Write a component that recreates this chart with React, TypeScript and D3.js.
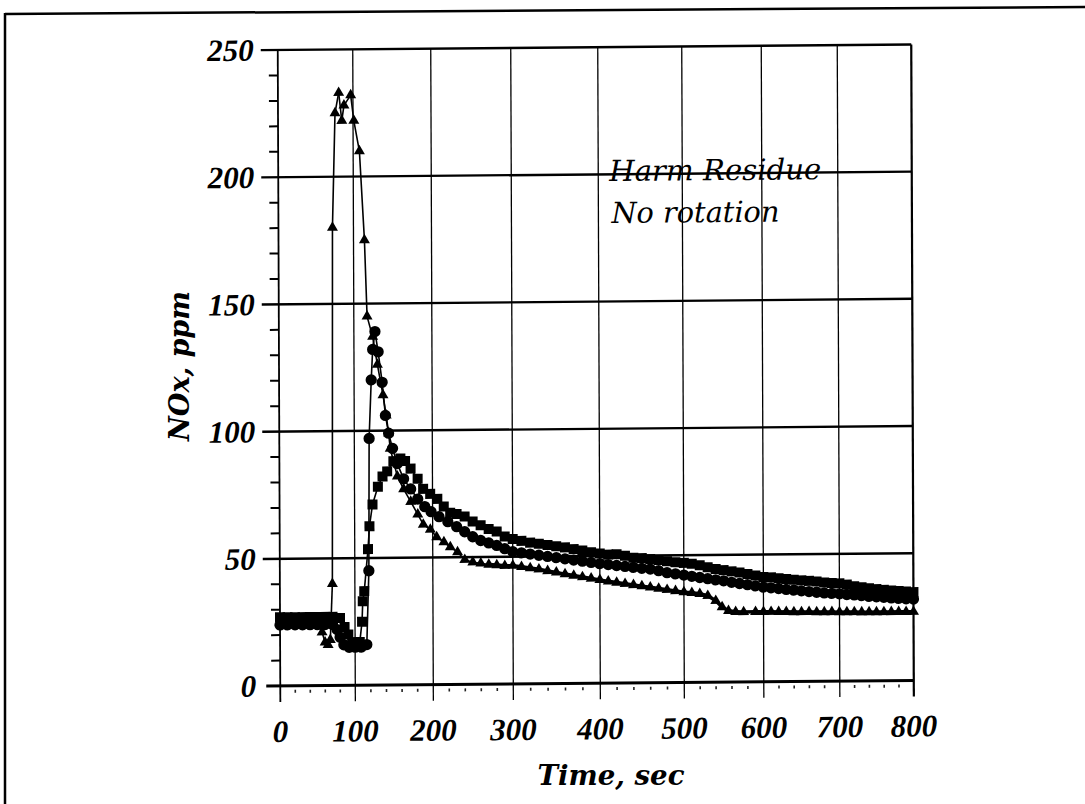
import React from "react";
import * as d3 from "d3";

// ---- data (time in s, NOx in ppm) ----
const squareSeries: [number, number][] = [
  [0,27],[10,27],[20,27],[30,27],[40,27],[50,27],[60,27],[70,27],[80,26.5],[86,23],[91,20],[96,17],[101,16],[106,17],
  [109,25],[110,33],[112,37],[117,53.5],[119,62.5],[123,71],[130,78],[136,82],[142,84],[150,88],[159,89],[165,88],
  [172,85],[181,81],[188,77],[197,75],[206,73],[214,70],[222,67.5],[230,67],[240,66],[250,64],[260,62.5],[270,61],
  [280,60],[290,58],[300,57],[310,56.2],[320,55.5],[330,55],[340,54.5],[350,54],[360,53.5],[370,52.8],[380,52.2],
  [390,51.5],[400,51],[410,50.5],[420,50.6],[430,50],[440,49.2],[450,49],[460,48.6],[470,48.2],[480,47.7],[490,47.3],
  [500,47],[510,46.6],[520,46],[530,45.2],[540,44.5],[550,44],[560,43.5],[570,43],[580,42.4],[590,41.8],[600,41.2],
  [610,41],[620,40.6],[630,40.3],[640,40],[650,39.7],[660,39.5],[670,39.2],[680,38.8],[690,38.6],[700,38.4],[710,37.9],
  [720,37.2],[730,36.8],[740,36.4],[750,36],[760,35.7],[770,35.4],[780,35.2],[790,35],[800,34.7]
];

const circleSeries: [number, number][] = [
  [0,24],[10,24],[20,24],[30,24],[40,24],[50,24],[60,24],[70,24],[76,22],[80,19],[85,16],[92,15],[100,15],[108,15],
  [115,16],[118,45],[119,97],[122,120],[124,132],[127,139],[131,131],[136,119],[140,106],[144,99],[149,93],[155,87],
  [163,81],[172,77],[181,73],[190,70],[198,68],[208,66],[219,64],[230,62],[240,60],[250,58],[260,56.5],[270,55.5],
  [280,54.5],[290,53.2],[300,52],[310,51.5],[320,51],[330,50.5],[340,50],[350,49.5],[360,49],[370,48.5],[380,48],
  [390,47.5],[400,47],[410,46.6],[420,46.2],[430,45.8],[440,45.4],[450,45],[460,44.7],[470,44],[480,43.2],[490,42.7],
  [500,42.2],[510,41.7],[520,41.2],[530,40.7],[540,40.2],[550,39.8],[560,39.2],[570,38.7],[580,38.2],[590,37.7],
  [600,37.2],[610,36.9],[620,36.6],[630,36.2],[640,35.9],[650,35.6],[660,35.3],[670,35],[680,34.7],[690,34.5],
  [700,34.3],[710,34],[720,33.8],[730,33.5],[740,33.2],[750,33],[760,32.8],[770,32.5],[780,32.3],[790,32.1],[800,32]
];

const triangleSeries: [number, number][] = [
  [0,25],[10,25],[20,25],[30,25],[40,25],[50,24],[56,21],[60,17],[64,16],[67,18],[70,40],[72,180],[76,225],[81,233],
  [85,222],[88,228],[97,232],[101,222],[108,210],[114,175],[117,145],[124,137],[130,126],[137,114],[141,106],[144,99],
  [146,93],[155,82],[163,77],[172,72],[181,67],[188,63],[197,61],[205,58],[214,56],[222,54],[231,52],[240,49],[250,48],
  [260,47.5],[270,47],[280,46.8],[290,46.5],[300,46.5],[310,46],[320,45.5],[330,45],[340,44.3],[350,43.7],[360,43],
  [370,42.4],[380,41.8],[390,41.2],[400,40.6],[410,40],[420,39.5],[430,39],[440,38.5],[450,38],[460,37.5],[470,37],
  [480,36.5],[490,36],[500,35.5],[510,35.2],[520,34.8],[530,34],[540,32],[548,29.5],[556,28],[565,27.6],[575,27.5],
  [590,27.5],[600,27.5],[610,27.5],[620,27.4],[630,27.4],[640,27.3],[650,27.3],[660,27.3],[670,27.2],[680,27.2],
  [690,27.2],[700,27.1],[710,27.1],[720,27.1],[730,27],[740,27],[750,27],[760,27],[770,27],[780,27],[790,27],[800,27]
];

const xTicks = [0, 100, 200, 300, 400, 500, 600, 700, 800];
const yTicks = [0, 50, 100, 150, 200, 250];
const xMinorTicks = d3.range(20, 800, 20).filter((v) => v % 100 !== 0);
const yMinorTicks = d3.range(10, 250, 10).filter((v) => v % 50 !== 0);

const yLabel = "NOx, ppm";
const xLabel = "Time, sec";
const noteLines = ["Harm Residue", "No rotation"];

export default function App() {
  // the scanned figure's axis is slightly uneven; a polylinear scale follows it
  const x = d3.scaleLinear().domain(xTicks).range([279, 354, 432, 512, 599, 683, 762.5, 838.5, 912.5]);
  const y = d3.scaleLinear().domain([0, 250]).range([686, 50]);

  const line = d3.line<[number, number]>().x((d) => x(d[0])).y((d) => y(d[1]));
  const sq = d3.symbol().type(d3.symbolSquare).size(100)();
  const ci = d3.symbol().type(d3.symbolCircle).size(100)();
  const tr = d3.symbol().type(d3.symbolTriangle).size(52)();

  const serif = "'Liberation Serif', 'Times New Roman', serif";
  const dv = "'DejaVu Serif', serif";
  const x0 = x(0), x1 = x(800), yTop = y(250), yBot = y(0);
  const thick = (t: number) => (t >= 280 ? 3.5 : 1.6);

  return (
    <svg width={1085} height={804} style={{ position: "absolute", left: 0, top: 0, background: "#fff" }}>
      <rect x={0} y={0} width={1085} height={804} fill="#fff" />
      {/* outer frame */}
      <line x1={5} y1={14} x2={1085} y2={7} stroke="#000" strokeWidth={2.5} />
      <line x1={5} y1={13} x2={5} y2={804} stroke="#000" strokeWidth={2.5} />

      <g transform="matrix(1,-0.0088,0.004,1,-1.46,2.455)">
        {/* horizontal grid lines */}
        {yTicks.filter((v) => v > 0).map((v) => (
          <line key={"h" + v} x1={x0 - 17} x2={x1} y1={y(v)} y2={y(v)} stroke="#000" strokeWidth={2.4} />
        ))}
        <line x1={x0 - 14} x2={x1} y1={yBot} y2={yBot} stroke="#000" strokeWidth={3} />
        {/* vertical grid lines */}
        {xTicks.map((v) => (
          <line key={"v" + v} x1={x(v)} x2={x(v)} y1={yTop} y2={yBot + 16} stroke="#000"
            strokeWidth={v === 0 ? 1.8 : v === 800 ? 2.2 : 1.3} />
        ))}
        {/* minor ticks */}
        {yMinorTicks.map((v) => (
          <line key={"ym" + v} x1={x0 - 9} x2={x0} y1={y(v)} y2={y(v)} stroke="#000" strokeWidth={2} />
        ))}
        {xMinorTicks.map((v) => (
          <line key={"xm" + v} x1={x(v)} x2={x(v)} y1={yBot + 4} y2={yBot + 7} stroke="#222" strokeWidth={1.6} />
        ))}

        {/* series: thin connecting lines, heavier where samples crowd together */}
        {[squareSeries, circleSeries, triangleSeries].map((s, i) => (
          <g key={"l" + i}>
            {s.slice(1).map((d, j) => (
              <line key={j} x1={x(s[j][0])} y1={y(s[j][1])} x2={x(d[0])} y2={y(d[1])} stroke="#000"
                strokeWidth={thick(d[0])} strokeLinecap="round" />
            ))}
          </g>
        ))}
        {squareSeries.map((d, i) => (
          <path key={"s" + i} d={sq} transform={`translate(${x(d[0])},${y(d[1])})`} fill="#000" />
        ))}
        {circleSeries.map((d, i) => (
          <path key={"c" + i} d={ci} transform={`translate(${x(d[0])},${y(d[1])})`} fill="#000" />
        ))}
        {triangleSeries.map((d, i) => (
          <path key={"t" + i} d={tr} transform={`translate(${x(d[0])},${y(d[1])})`} fill="#000" />
        ))}

        {/* tick labels */}
        {yTicks.map((v) => (
          <text key={"yl" + v} x={255} y={y(v) + 10.5} textAnchor="end" fontFamily={serif}
            fontStyle="italic" fontWeight="bold" fontSize={31} fill="#000">{v}</text>
        ))}
        {xTicks.map((v) => (
          <text key={"xl" + v} x={x(v)} y={742} textAnchor="middle" fontFamily={serif}
            fontStyle="italic" fontWeight="bold" fontSize={31} fill="#000">{v}</text>
        ))}

        {/* note */}
        <text x={610} y={184} fontFamily={dv} fontStyle="italic" fontSize={29} textLength={212}
          lengthAdjust="spacingAndGlyphs" fill="#000">{noteLines[0]}</text>
        <text x={612} y={226} fontFamily={dv} fontStyle="italic" fontSize={29} textLength={168}
          lengthAdjust="spacingAndGlyphs" fill="#000">{noteLines[1]}</text>
      </g>

      {/* axis titles */}
      <text x={611} y={785} textAnchor="middle" fontFamily={dv} fontStyle="italic" fontWeight="bold"
        fontSize={27} textLength={147} lengthAdjust="spacingAndGlyphs" fill="#000">{xLabel}</text>
      <text transform="translate(189,366) rotate(-90)" textAnchor="middle" fontFamily={dv} fontStyle="italic"
        fontWeight="bold" fontSize={27} textLength={150} lengthAdjust="spacingAndGlyphs" fill="#000">{yLabel}</text>
    </svg>
  );
}
